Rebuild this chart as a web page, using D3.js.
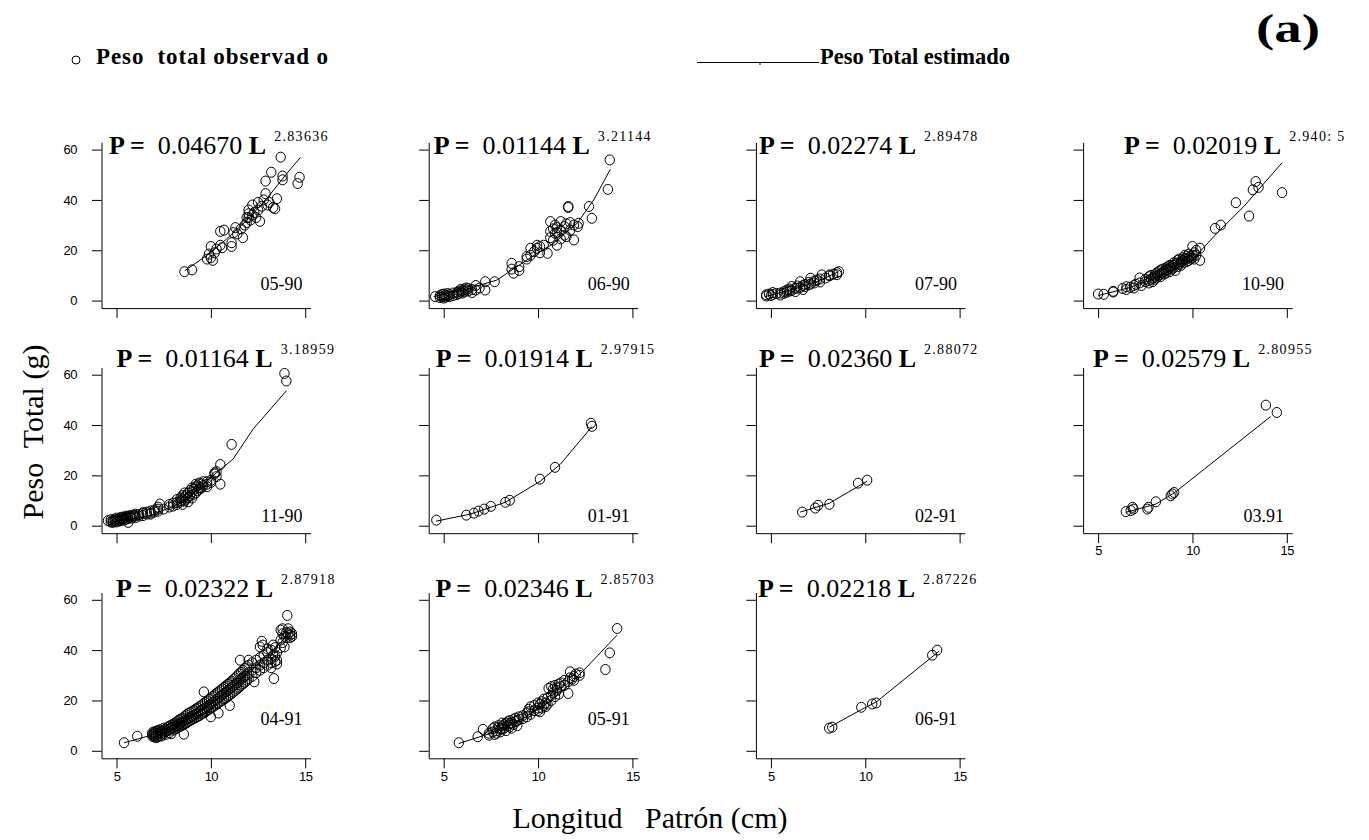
<!DOCTYPE HTML>
<html lang="es">
  <head>
    <meta http-equiv="content-type" content="text/html; charset=utf-8"/>
    <title>Peso total vs Longitud patron</title>
    <script type="text/javascript" src="https://d3js.org/d3.v7.min.js"></script>
    <style type="text/css">
      body { margin: 0; background: #fff; }
      text { font-family: "Liberation Serif", "Times New Roman", serif; fill: #000; }
      .tick text { font-family: "Liberation Sans", Arial, sans-serif; font-size: 13px; letter-spacing: -0.5px; }
      .domain, .tick line { stroke: #000; stroke-width: 1px; }
      .obs { fill: none; stroke: #000; stroke-width: 1px; }
      .fit { fill: none; stroke: #000; stroke-width: 1px; }
    </style>
  </head>
  <body>
    <svg id="chart" width="1369" height="840"></svg>
    <script>
      // =============================================
      // Data  (L = longitud patron cm, P = peso g)
      // =============================================
      var panelIds = ["05-90", "06-90", "07-90", "10-90", "11-90", "01-91", "02-91", "03.91", "04-91", "05-91", "06-91"];
      var coefA = ["0.04670", "0.01144", "0.02274", "0.02019", "0.01164", "0.01914", "0.02360", "0.02579", "0.02322", "0.02346", "0.02218"];
      var coefB = ["2.83636", "3.21144", "2.89478", "2.940: 5", "3.18959", "2.97915", "2.88072", "2.80955", "2.87918", "2.85703", "2.87226"];
      var xTicks = [5, 10, 15];
      var yTicks = [0, 20, 40, 60];

      var obs_05_90 = [[8.6,11.5],[9.0,12.2],[9.8,16.5],[9.9,18.5],[10.0,17],[10.1,16],[10.2,19],[10.3,20.5],[10.0,21.5],[10.5,22],
        [10.6,21],[10.5,27.5],[10.7,28],[11.1,21.5],[11.1,23],[11.2,27],[11.3,29],[11.4,26.5],[11.7,25],[11.6,28.5],[11.9,31],
        [11.9,33],[12.0,34.5],[12.0,36],[12.1,32],[12.2,38],[12.3,35],[12.4,33],[12.5,36],[12.6,31.5],[12.5,39],[12.7,37.5],
        [12.8,40],[12.9,42.5],[12.9,47.5],[13.0,38],[13.1,39],[13.2,51],[13.3,37],[13.4,36.5],[13.5,40.5],[13.7,57],[13.8,49.5],
        [13.8,48],[14.6,46.5],[14.7,49],[12.2,34],[12.0,33],[11.8,30]];
      var fit_05_90 = [[8.62,11.9],[9.77,17.9],[10.83,24.5],[11.89,31.8],[12.95,40.4],[14.0,50.3],[14.75,56.9]];

      var obs_06_90 = [[4.55,1.6],[4.8,1.2],[4.8,2.0],[4.9,1.5],[4.9,2.4],[5.0,1.8],[5.0,1.0],[5.0,2.6],[5.1,2.2],[5.1,1.4],
        [5.2,1.8],[5.2,2.8],[5.3,2.4],[5.3,1.6],[5.5,2.0],[5.5,3.0],[5.7,3.2],[5.7,2.4],[5.8,3.8],[5.8,2.8],[5.9,3.4],[5.9,4.4],
        [6.0,3.0],[6.0,4.0],[6.1,4.6],[6.1,3.6],[6.2,4.2],[6.2,5.0],[6.3,3.8],[6.3,4.8],[6.5,4.4],[6.5,3.2],[6.7,4.2],[6.7,6.0],
        [6.9,5.0],[7.2,7.5],[7.2,4.2],[7.7,7.5],[8.6,14.8],[8.6,12.5],[8.7,10.9],[9.0,13.5],[9.0,12.0],[9.4,17.5],[9.4,16.5],
        [9.6,20.8],[9.6,18.0],[9.8,19.5],[9.95,20.8],[9.95,22.0],[10.1,21.5],[10.1,19.0],[10.3,22.0],[10.5,18.8],[10.65,31.4],
        [10.65,27.5],[10.65,25.0],[10.8,28.5],[10.8,24.0],[10.9,26.8],[10.9,30.0],[11.0,22.0],[11.0,29.0],[11.0,27.0],[11.2,31.4],
        [11.2,28.0],[11.2,24.5],[11.4,29.4],[11.4,26.0],[11.5,25.4],[11.5,30.5],[11.6,37.4],[11.6,37.0],[11.7,28.0],[11.7,31.0],
        [11.9,24.1],[11.9,30.0],[12.1,29.4],[12.15,30.7],[12.7,37.4],[12.85,32.7],[13.7,44.2],[13.8,55.9]];
      var fit_06_90 = [[4.47,1.6],[6.06,4.2],[7.83,8.2],[9.42,16.2],[10.83,22.8],[12.07,30.7],[12.95,40.0],[13.83,52.2]];

      var obs_07_90 = [[4.75,2.3],[4.75,1.8],[4.9,2.6],[5.0,2.0],[5.1,3.2],[5.1,2.5],[5.3,2.8],[5.5,3.0],[5.5,2.2],[5.7,2.9],
        [5.7,3.6],[5.85,4.2],[5.85,3.4],[6.0,3.8],[6.0,4.6],[6.1,5.6],[6.1,4.0],[6.3,4.9],[6.3,3.6],[6.4,4.9],[6.4,5.8],[6.55,7.5],
        [6.55,5.2],[6.7,4.4],[6.7,6.0],[6.8,5.6],[6.8,6.4],[7.0,6.2],[7.0,7.2],[7.1,8.9],[7.1,6.6],[7.3,7.0],[7.3,7.8],[7.44,8.2],
        [7.6,8.6],[7.6,7.4],[7.7,10.2],[7.9,9.0],[8.1,10.2],[8.1,9.8],[8.3,10.5],[8.5,11.1],[8.5,10.3],[8.6,11.5]];
      var fit_07_90 = [[4.7,1.6],[6.38,4.9],[7.44,7.5],[8.59,11.5]];

      var obs_10_90 = [[5.0,2.6],[5.3,2.5],[5.8,3.4],[5.8,3.7],[6.3,4.8],[6.5,5.5],[6.5,4.4],[6.7,5.3],[6.9,6.0],[6.9,5.0],
        [7.0,6.5],[7.2,7.0],[7.2,9.0],[7.3,6.0],[7.5,7.5],[7.5,8.5],[7.7,9.5],[7.7,7.0],[7.7,8.0],[7.8,8.5],[7.8,10.0],[7.9,9.0],
        [7.9,7.5],[8.0,10.2],[8.0,8.5],[8.0,9.5],[8.1,11.0],[8.1,9.0],[8.2,10.0],[8.2,11.5],[8.3,10.5],[8.3,9.5],[8.3,12.0],
        [8.4,11.0],[8.4,12.5],[8.5,10.5],[8.5,11.5],[8.6,12.0],[8.6,13.0],[8.6,11.0],[8.7,12.5],[8.7,13.5],[8.8,13.0],[8.8,11.5],
        [8.8,14.0],[8.9,13.5],[8.9,12.5],[9.0,14.0],[9.0,15.0],[9.0,13.0],[9.1,12.0],[9.1,14.5],[9.2,15.0],[9.2,16.0],[9.2,13.5],
        [9.3,14.5],[9.3,16.5],[9.4,15.5],[9.4,14.0],[9.5,16.0],[9.5,17.0],[9.5,15.0],[9.6,16.5],[9.6,18.0],[9.7,15.5],[9.7,17.5],
        [9.8,17.0],[9.8,18.5],[9.8,16.0],[9.9,17.5],[9.9,16.5],[10.0,18.0],[10.0,21.5],[10.0,17.0],[10.1,19.0],[10.1,16.5],
        [10.2,18.0],[10.2,20.0],[10.4,20.8],[10.4,16.0],[11.2,28.7],[11.5,30.0],[12.3,38.9],[13.0,33.6],[13.2,44.0],[13.35,47.3],
        [13.5,45.0],[14.75,42.9]];
      var fit_10_90 = [[5.0,2.0],[6.54,4.9],[8.3,9.5],[10.07,16.8],[11.3,26.8],[12.72,37.4],[14.75,54.8]];

      var obs_11_90 = [[4.55,2.0],[4.7,1.5],[4.7,2.4],[4.8,2.0],[4.8,1.3],[4.9,2.6],[4.9,1.8],[5.0,2.2],[5.0,1.5],[5.0,3.0],
        [5.1,2.4],[5.1,1.8],[5.2,2.8],[5.2,2.0],[5.2,3.2],[5.3,2.6],[5.3,3.4],[5.4,2.2],[5.4,3.0],[5.5,3.2],[5.5,2.6],[5.5,3.8],
        [5.6,2.8],[5.6,3.6],[5.62,1.3],[5.7,3.4],[5.7,4.0],[5.8,3.0],[5.8,3.8],[5.9,3.6],[5.9,4.2],[6.0,3.2],[6.0,4.0],[6.0,4.6],
        [6.2,3.8],[6.2,4.4],[6.4,4.0],[6.4,4.8],[6.4,5.2],[6.6,4.6],[6.6,5.4],[6.8,5.0],[6.8,5.8],[6.8,4.6],[7.0,5.4],[7.0,6.2],
        [7.2,5.8],[7.2,6.6],[7.2,7.4],[7.3,8.6],[7.5,6.6],[7.8,7.4],[7.8,8.4],[8.0,7.8],[8.0,9.0],[8.2,8.4],[8.2,10.4],[8.2,9.2],
        [8.4,9.4],[8.4,11.0],[8.4,10.0],[8.5,8.5],[8.5,12.0],[8.5,10.5],[8.6,9.8],[8.6,11.5],[8.6,13.0],[8.7,10.5],[8.7,12.2],
        [8.8,11.2],[8.8,13.0],[8.8,9.5],[8.9,12.0],[8.9,14.0],[9.0,11.0],[9.0,13.5],[9.0,15.0],[9.1,12.5],[9.1,14.5],[9.2,13.0],
        [9.2,15.5],[9.2,16.5],[9.3,14.0],[9.3,16.0],[9.4,14.5],[9.4,17.0],[9.4,15.2],[9.5,15.0],[9.5,16.5],[9.6,16.0],[9.6,17.5],
        [9.8,16.5],[9.8,15.5],[9.8,17.5],[10.0,17.2],[10.0,18.0],[10.2,20.5],[10.2,21.0],[10.3,19.5],[10.3,21.5],[10.5,16.5],
        [10.5,24.3],[11.1,32.3],[13.9,60.5],[14.0,57.5]];
      var fit_11_90 = [[4.56,1.3],[6.77,4.0],[8.53,9.3],[10.12,19.9],[11.18,26.5],[12.24,38.4],[14.0,53.6]];

      var obs_01_91 = [[4.61,2.2],[6.2,4.2],[6.6,5.0],[6.84,5.8],[7.15,6.6],[7.5,7.7],[8.27,9.3],[8.5,10.1],[10.1,18.5],
        [10.9,23.2],[12.8,40.7],[12.86,39.5]];
      var fit_01_91 = [[4.6,1.8],[6.41,4.6],[8.27,9.3],[10.12,17.7],[11.18,24.4],[12.87,39.5]];

      var obs_02_91 = [[6.66,5.4],[7.35,7.0],[7.5,8.1],[8.1,8.5],[9.62,16.9],[10.1,18.1]];
      var fit_02_91 = [[6.55,5.4],[8.09,8.9],[10.1,17.7]];

      var obs_03_91 = [[6.47,5.6],[6.73,6.0],[6.82,7.3],[6.87,6.6],[7.61,6.6],[7.67,7.3],[8.06,9.5],[8.85,11.9],[8.94,12.6],
        [9.03,13.2],[13.89,47.9],[14.47,45.0]];
      var fit_03_91 = [[6.47,5.3],[8.06,8.6],[9.03,13.0],[14.15,43.4]];

      var obs_04_91 = [[5.4,3.2],[6.1,5.8],[6.9,6.5],[6.9,5.8],[6.9,7.2],[7.0,5.5],[7.0,6.8],[7.0,7.5],[7.0,6.0],[7.1,6.2],
        [7.1,5.2],[7.1,7.8],[7.2,6.6],[7.2,5.6],[7.2,8.0],[7.2,7.0],[7.3,7.4],[7.3,6.0],[7.3,8.4],[7.4,6.8],[7.4,7.9],[7.4,5.9],
        [7.5,8.2],[7.5,7.0],[7.5,9.0],[7.6,7.6],[7.6,8.6],[7.6,6.5],[7.7,8.0],[7.7,9.3],[7.8,8.4],[7.8,9.8],[7.8,7.2],[7.9,9.0],
        [7.9,6.8],[7.9,10.2],[8.0,9.4],[8.0,10.6],[8.0,8.2],[8.1,9.8],[8.1,11.0],[8.1,8.6],[8.2,10.2],[8.2,11.6],[8.2,9.0],
        [8.3,10.6],[8.3,12.2],[8.3,9.5],[8.4,11.0],[8.4,12.6],[8.4,9.8],[8.5,11.5],[8.5,13.0],[8.5,10.2],[8.57,6.6],[8.6,12.0],
        [8.6,13.6],[8.6,10.8],[8.7,12.4],[8.7,14.2],[8.7,11.0],[8.8,12.8],[8.8,14.8],[8.8,11.6],[8.9,13.2],[8.9,15.2],[8.9,12.0],
        [9.0,13.8],[9.0,15.6],[9.0,12.4],[9.1,14.2],[9.1,16.0],[9.1,12.8],[9.2,14.6],[9.2,16.6],[9.2,13.2],[9.3,15.0],[9.3,17.0],
        [9.3,13.6],[9.4,15.6],[9.4,17.6],[9.4,14.0],[9.5,16.0],[9.5,18.0],[9.5,14.6],[9.63,23.4],[9.6,16.6],[9.6,18.6],[9.6,15.0],
        [9.7,17.0],[9.7,19.2],[9.7,15.4],[9.8,17.6],[9.8,19.8],[9.8,16.0],[9.9,18.0],[9.9,20.4],[9.9,16.4],[10.0,18.6],[10.0,21.0],
        [10.0,17.0],[10.0,13.5],[10.1,19.2],[10.1,21.6],[10.1,17.4],[10.2,19.8],[10.2,22.2],[10.2,18.0],[10.3,20.4],[10.3,22.8],
        [10.3,18.4],[10.4,21.0],[10.4,23.4],[10.4,19.0],[10.4,15.0],[10.5,21.6],[10.5,24.0],[10.5,19.6],[10.6,22.2],[10.6,24.6],
        [10.6,20.0],[10.7,22.8],[10.7,25.2],[10.7,20.6],[10.8,23.4],[10.8,25.8],[10.8,21.0],[10.9,24.0],[10.9,26.4],[10.9,21.6],
        [11.0,24.6],[11.0,27.0],[11.0,22.2],[11.0,18.0],[11.1,25.2],[11.1,27.6],[11.1,22.8],[11.2,25.8],[11.2,28.4],[11.2,23.4],
        [11.3,26.4],[11.3,29.0],[11.3,24.0],[11.4,27.0],[11.4,29.8],[11.4,24.6],[11.5,27.6],[11.5,30.6],[11.5,25.2],[11.55,36.0],
        [11.6,28.4],[11.6,31.2],[11.6,26.0],[11.7,29.0],[11.7,32.0],[11.7,26.6],[11.8,29.6],[11.8,32.8],[11.8,27.2],[11.9,30.2],
        [11.9,33.4],[11.9,28.0],[12.0,31.0],[12.0,34.0],[12.0,28.6],[12.0,36.0],[12.2,32.0],[12.2,35.0],[12.2,29.6],[12.3,27.4],
        [12.4,33.0],[12.4,36.0],[12.4,31.0],[12.6,34.0],[12.6,37.0],[12.6,32.0],[12.6,41.3],[12.7,43.5],[12.75,42.0],[12.8,35.0],
        [12.8,38.0],[12.8,33.0],[13.0,36.0],[13.0,39.0],[13.0,34.0],[13.0,40.5],[13.2,36.5],[13.2,40.0],[13.2,35.0],[13.2,33.0],
        [13.34,28.7],[13.3,38.0],[13.3,42.0],[13.4,37.5],[13.4,35.5],[13.4,41.0],[13.5,39.0],[13.5,36.0],[13.5,34.5],[13.7,44.0],
        [13.7,48.0],[13.7,41.0],[13.8,46.5],[13.8,43.0],[13.8,48.5],[13.9,41.3],[13.9,45.5],[14.05,53.8],[14.0,47.0],[14.0,45.0],
        [14.1,46.5],[14.1,48.5],[14.2,46.0],[14.2,45.0],[14.2,47.2],[14.3,45.5],[14.3,46.5]];
      var fit_04_91 = [[5.4,3.2],[7.0,6.5],[8.0,9.8],[9.0,13.8],[10.0,18.5],[11.0,24.5],[12.0,31.0],[13.0,38.0],[14.3,47.5]];

      var obs_05_91 = [[5.8,3.2],[6.8,5.6],[7.08,8.5],[7.4,6.2],[7.4,7.0],[7.6,7.5],[7.6,8.8],[7.7,6.5],[7.7,9.5],[7.8,8.0],
        [7.8,7.0],[7.9,9.2],[7.9,10.0],[8.0,8.5],[8.0,7.5],[8.1,9.8],[8.1,8.8],[8.1,11.0],[8.2,10.4],[8.2,9.0],[8.3,11.0],[8.3,8.0],
        [8.4,10.0],[8.4,11.6],[8.5,9.5],[8.5,12.0],[8.5,10.8],[8.6,11.2],[8.6,9.0],[8.7,12.4],[8.7,10.5],[8.8,11.6],[8.8,13.0],
        [8.9,12.0],[8.9,10.0],[9.0,13.5],[9.0,12.5],[9.2,12.8],[9.2,14.0],[9.4,15.0],[9.4,13.5],[9.5,16.5],[9.5,15.5],[9.6,17.5],
        [9.6,14.5],[9.8,16.0],[9.8,18.0],[10.0,17.0],[10.0,19.0],[10.0,16.0],[10.1,18.5],[10.1,15.5],[10.2,19.5],[10.2,17.0],
        [10.3,18.0],[10.3,20.5],[10.4,17.5],[10.4,19.0],[10.5,21.0],[10.5,18.5],[10.56,24.8],[10.7,20.0],[10.7,22.0],[10.7,25.5],
        [10.8,23.0],[10.8,24.5],[10.9,21.5],[10.9,26.0],[11.0,24.0],[11.0,25.0],[11.1,22.5],[11.1,26.5],[11.2,25.5],[11.2,27.0],
        [11.4,26.0],[11.4,28.0],[11.6,22.8],[11.6,27.5],[11.7,31.4],[11.7,29.0],[11.8,28.5],[11.9,29.5],[11.9,28.0],[12.0,30.5],
        [12.2,30.0],[12.2,31.0],[13.57,32.3],[13.8,38.9],[14.19,48.6]];
      var fit_05_91 = [[5.8,2.9],[7.47,6.9],[9.06,12.2],[10.48,18.8],[11.54,25.4],[12.6,33.4],[14.19,46.0]];

      var obs_06_91 = [[8.09,9.0],[8.25,9.4],[9.79,17.3],[10.37,18.6],[10.58,19.0],[13.55,38.0],[13.81,40.0]];
      var fit_06_91 = [[8.1,9.4],[9.8,16.4],[10.6,19.5],[13.9,39.5]];

      var observed = [obs_05_90, obs_06_90, obs_07_90, obs_10_90, obs_11_90, obs_01_91, obs_02_91, obs_03_91, obs_04_91, obs_05_91, obs_06_91];
      var fitted = [fit_05_90, fit_06_90, fit_07_90, fit_10_90, fit_11_90, fit_01_91, fit_02_91, fit_03_91, fit_04_91, fit_05_91, fit_06_91];

      // =============================================
      // Layout
      // =============================================
      var colX = 101.5, colStep = 327.2;   // y-axis line of first column
      var rowY = 300.6, rowStep = 225.1;   // y = 0 of first row
      var eqDx = [7.6, 5, 3, 41, 15, 7, 3, 10, 14.5, 6.7, 2];
      var eqBase = [-147, -159, -154];
      var idBase = [-10.5, -3.3, -25.7];

      var svg = d3.select("#chart");

      panelIds.forEach(function(id, i) {
        var col = i % 4, row = Math.floor(i / 4);
        var ox = colX + col * colStep, y0 = rowY + row * rowStep;
        var showX = row == 2 || i == 7, showY = col == 0;

        var x = d3.scaleLinear().domain([4.205, 15.28]).range([ox, ox + 209]);
        var y = d3.scaleLinear().domain([-2.98, 62.9]).range([y0 + 7.5, y0 - 158.3]);

        var g = svg.append("g");

        g.append("g")
          .attr("transform", "translate(0," + (y0 + 7.5) + ")")
          .call(d3.axisBottom(x).tickValues(xTicks).tickSize(10).tickSizeOuter(0).tickPadding(3)
            .tickFormat(showX ? d3.format("d") : function() { return ""; }));

        g.append("g")
          .attr("transform", "translate(" + ox + ",0)")
          .call(d3.axisLeft(y).tickValues(yTicks).tickSize(9.5).tickSizeOuter(0).tickPadding(15)
            .tickFormat(showY ? d3.format("d") : function() { return ""; }));

        g.append("path")
          .datum(fitted[i])
          .attr("class", "fit")
          .attr("d", d3.line().x(function(d) { return x(d[0]); }).y(function(d) { return y(d[1]); }));

        g.selectAll(".obs")
            .data(observed[i])
          .enter().append("ellipse")
            .attr("class", "obs")
            .attr("cx", function(d) { return x(d[0]); })
            .attr("cy", function(d) { return y(d[1]); })
            .attr("rx", 4.7)
            .attr("ry", 5);

        // equation  P = a L^b
        var eq = g.append("text")
          .attr("x", ox + eqDx[i])
          .attr("y", y0 + eqBase[row])
          .style("font-size", "26px")
          .style("white-space", "pre");
        eq.append("tspan").style("font-weight", "bold").text("P =");
        eq.append("tspan").text("  " + coefA[i] + " ");
        eq.append("tspan").style("font-weight", "bold").text("L");

        g.append("text")
          .attr("x", ox + eqDx[i] + eq.node().getComputedTextLength() + 8)
          .attr("y", y0 + eqBase[row] - 13)
          .style("font-size", "14px")
          .style("letter-spacing", "1.3px")
          .style("white-space", "pre")
          .text(coefB[i]);

        g.append("text")
          .attr("x", ox + 201)
          .attr("y", y0 + idBase[row])
          .attr("text-anchor", "end")
          .style("font-size", "18px")
          .text(id);
      });

      // =============================================
      // Legend, panel letter, axis titles
      // =============================================
      svg.append("circle").attr("class", "obs").attr("cx", 76).attr("cy", 60).attr("r", 4);
      svg.append("text").attr("x", 96).attr("y", 64)
        .attr("textLength", 232).attr("lengthAdjust", "spacing")
        .style("font-size", "23px").style("font-weight", "bold").style("white-space", "pre")
        .text("Peso  total observad o");

      svg.append("line").attr("x1", 697).attr("x2", 819).attr("y1", 62.5).attr("y2", 62.5).attr("stroke", "#000");
      svg.append("line").attr("x1", 760).attr("x2", 760).attr("y1", 62.5).attr("y2", 65).attr("stroke", "#000");
      svg.append("text").attr("x", 820).attr("y", 64)
        .style("font-size", "22.5px").style("font-weight", "bold")
        .text("Peso Total estimado");

      svg.append("text").attr("x", 1256).attr("y", 42)
        .attr("textLength", 64).attr("lengthAdjust", "spacingAndGlyphs")
        .style("font-size", "40px").style("font-weight", "bold")
        .text("(a)");

      svg.append("text")
        .attr("transform", "translate(43,432) rotate(-90)")
        .attr("text-anchor", "middle")
        .style("font-size", "30px").style("white-space", "pre")
        .text("Peso  Total (g)");

      svg.append("text")
        .attr("x", 650).attr("y", 828)
        .attr("text-anchor", "middle")
        .style("font-size", "30px").style("white-space", "pre")
        .text("Longitud   Patrón (cm)");
    </script>
  </body>
</html>
